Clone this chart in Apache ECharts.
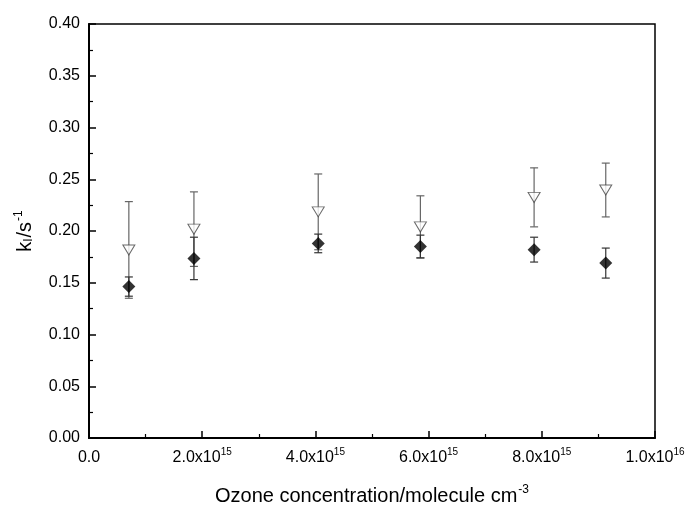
<!DOCTYPE html>
<html>
<head>
<meta charset="utf-8">
<script src="https://cdn.jsdelivr.net/npm/echarts@6/dist/echarts.min.js"></script>
<style>html,body{margin:0;padding:0;background:#fff}#c{width:686px;height:505px}</style>
</head>
<body>
<div id="c"></div>
<script>
// ---- data ----
var ozone = [0.704e15, 1.854e15, 4.05e15, 5.855e15, 7.864e15, 9.13e15];
var kDiamond = [0.1463, 0.1735, 0.188, 0.185, 0.182, 0.169];
var errDiamond = [0.0093, 0.0205, 0.009, 0.011, 0.012, 0.0145];
var kTriangle = [0.1817, 0.2018, 0.2185, 0.204, 0.2325, 0.2396];
var errTriangle = [0.0467, 0.036, 0.0366, 0.030, 0.0285, 0.026];
var xTickMantissa = ['0.0', '2.0', '4.0', '6.0', '8.0', '1.0'];
var xTickExponent = ['', '15', '15', '15', '15', '16'];
var yTickLabels = ['0.00','0.05','0.10','0.15','0.20','0.25','0.30','0.35','0.40'];

function pts(xs, ys) { return xs.map(function (x, i) { return [x, ys[i]]; }); }
function errData(xs, ys, es) { return xs.map(function (x, i) { return [x, ys[i] - es[i], ys[i] + es[i]]; }); }

function errorRender(color) {
  return function (params, api) {
    var x = api.value(0);
    var lo = api.coord([x, api.value(1)]);
    var hi = api.coord([x, api.value(2)]);
    var hw = 4;
    var st = { stroke: color, lineWidth: 1.2 };
    return {
      type: 'group',
      children: [
        { type: 'line', shape: { x1: lo[0], y1: lo[1], x2: hi[0], y2: hi[1] }, style: st },
        { type: 'line', shape: { x1: lo[0] - hw, y1: lo[1], x2: lo[0] + hw, y2: lo[1] }, style: st },
        { type: 'line', shape: { x1: hi[0] - hw, y1: hi[1], x2: hi[0] + hw, y2: hi[1] }, style: st }
      ]
    };
  };
}

var font = 'Liberation Sans, Arial, sans-serif';
var chart = echarts.init(document.getElementById('c'));
chart.setOption({
  animation: false,
  backgroundColor: '#fff',
  grid: { left: 89, right: 31, top: 24, bottom: 67, containLabel: false, outerBoundsMode: 'none',
          show: true, borderColor: '#000', borderWidth: 1.5, backgroundColor: 'transparent' },
  xAxis: {
    type: 'value', min: 0, max: 1e16, interval: 2e15,
    name: '{a|Ozone concentration/molecule cm}{s|-3}',
    nameLocation: 'middle', nameGap: 46,
    nameTextStyle: { rich: {
      a: { fontFamily: font, fontSize: 20, color: '#000', lineHeight: 24 },
      s: { fontFamily: font, fontSize: 12, color: '#000', lineHeight: 24, padding: [0, 0, 13, 1] }
    } },
    axisLine: { lineStyle: { color: '#000', width: 2 } },
    axisTick: { inside: true, length: 7, lineStyle: { color: '#000', width: 1.5 } },
    minorTick: { show: true, splitNumber: 2, length: 4, lineStyle: { color: '#000', width: 1.2 } },
    splitLine: { show: false },
    axisLabel: {
      margin: 10,
      formatter: function (v) {
        var i = Math.round(v / 2e15);
        if (!xTickExponent[i]) return '{a|' + xTickMantissa[i] + '}';
        return '{a|' + xTickMantissa[i] + 'x10}{s|' + xTickExponent[i] + '}';
      },
      rich: {
        a: { fontFamily: font, fontSize: 16, color: '#000', lineHeight: 20 },
        s: { fontFamily: font, fontSize: 10, color: '#000', lineHeight: 20, padding: [0, 0, 11, 0] }
      }
    }
  },
  yAxis: {
    type: 'value', min: 0, max: 0.4, interval: 0.05,
    name: '{a|k}{b|I}{a|/s}{s|-1}',
    nameLocation: 'middle', nameGap: 50, nameRotate: 90,
    nameTextStyle: { rich: {
      a: { fontFamily: font, fontSize: 20, color: '#000', lineHeight: 24 },
      b: { fontFamily: font, fontSize: 12, color: '#000', lineHeight: 24, padding: [0, 1, -7, 0] },
      s: { fontFamily: font, fontSize: 12, color: '#000', lineHeight: 24, padding: [0, 0, 13, 1] }
    } },
    axisLine: { lineStyle: { color: '#000', width: 2 } },
    axisTick: { inside: true, length: 7, lineStyle: { color: '#000', width: 1.5 } },
    minorTick: { show: true, splitNumber: 2, length: 4, lineStyle: { color: '#000', width: 1.2 } },
    splitLine: { show: false },
    axisLabel: {
      margin: 9, fontFamily: font, fontSize: 16, color: '#000',
      formatter: function (v) { return yTickLabels[Math.round(v / 0.05)]; }
    }
  },
  series: [
    { type: 'custom', renderItem: errorRender('#666'), data: errData(ozone, kTriangle, errTriangle), encode: { x: 0, y: [1, 2] }, z: 1 },
    { type: 'custom', renderItem: errorRender('#333'), data: errData(ozone, kDiamond, errDiamond), encode: { x: 0, y: [1, 2] }, z: 1 },
    {
      type: 'scatter', data: pts(ozone, kTriangle), z: 3,
      symbol: 'path://M0,0 L10,0 L5,9 Z', symbolSize: [12, 10],
      itemStyle: { color: '#fff', borderColor: '#444', borderWidth: 1 }
    },
    {
      type: 'scatter', data: pts(ozone, kDiamond), z: 4,
      symbol: 'diamond', symbolSize: [13, 13],
      itemStyle: { color: '#000' }
    }
  ]
});
</script>
</body>
</html>
